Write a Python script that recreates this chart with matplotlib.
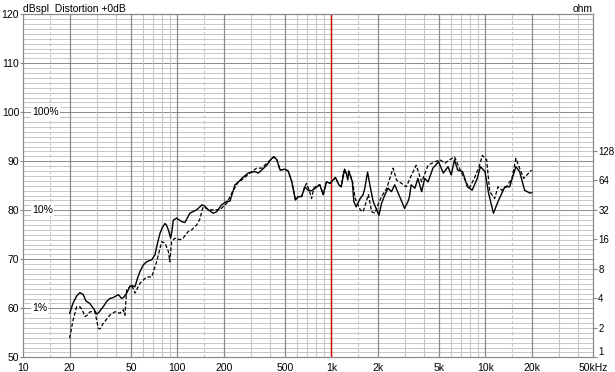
import numpy as np
import matplotlib
matplotlib.use("Agg")
import matplotlib.pyplot as plt

plt.rcParams['font.family'] = ['Liberation Sans', 'DejaVu Sans']

# measured response, solid trace
solid_f = [20, 21, 22.2, 23.3, 24.5, 25.5, 27, 28.5, 30, 31, 33, 35, 36.5, 38.4, 41.4, 43.5,
           45, 46.9, 49.3, 51, 53.1, 55, 57.2, 60, 63.2, 68.2, 71.6, 74, 77.2, 80, 83.2, 85,
           87.5, 90.6, 92.5, 94.2, 99, 106.6, 112, 120.6, 133.6, 144.6, 150, 158.9, 171, 180,
           193.8, 209, 220, 231, 237, 250, 262, 288, 318, 336, 353, 381, 411, 426, 443, 465,
           500, 525, 552, 565, 585, 611, 642, 673, 707, 745, 785, 842, 886, 930, 980, 1030,
           1063, 1120, 1160, 1220, 1250, 1280, 1300, 1370, 1400, 1450, 1540, 1610, 1650, 1720,
           1780, 1870, 1970, 2040, 2120, 2230, 2340, 2460, 2580, 2780, 2990, 3150, 3220, 3300,
           3490, 3650, 3860, 4040, 4250, 4570, 4970, 5340, 5730, 6010, 6310, 6620, 7120, 7650,
           8220, 8870, 9290, 9960, 10500, 11300, 12100, 13400, 14400, 15800, 16700, 18000,
           19500, 20000]
solid_db = [59.0, 61.0, 62.5, 63.2, 62.8, 61.5, 61.0, 60.0, 58.8, 59.2, 60.3, 61.5, 62.0, 62.2,
            62.8, 62.0, 62.3, 63.1, 64.5, 64.6, 64.4, 66.0, 67.5, 68.8, 69.5, 69.9, 70.9, 73.0,
            75.3, 76.5, 77.3, 77.0, 76.0, 74.3, 76.0, 78.0, 78.4, 77.7, 77.5, 79.4, 80.1, 81.1,
            80.9, 80.1, 79.4, 79.7, 81.1, 81.8, 81.9, 84.1, 85.2, 85.8, 86.5, 87.6, 87.9, 87.6,
            88.2, 89.2, 90.6, 90.9, 90.3, 88.2, 88.4, 88.0, 86.0, 84.5, 82.1, 82.8, 82.8, 84.8,
            84.1, 84.0, 84.5, 85.2, 83.2, 85.8, 85.5, 86.2, 86.7, 85.2, 84.8, 88.4, 87.6, 86.2,
            88.0, 85.8, 81.8, 80.7, 82.4, 83.2, 84.5, 87.8, 85.2, 81.8, 80.1, 79.0, 81.4, 83.2,
            84.5, 83.8, 85.2, 82.8, 80.4, 81.8, 82.8, 85.2, 84.5, 86.5, 83.8, 86.5, 85.8, 88.6,
            89.9, 87.6, 88.9, 87.2, 90.3, 88.2, 87.9, 84.8, 84.1, 86.5, 88.9, 87.9, 83.5, 79.4,
            81.8, 84.8, 84.8, 88.9, 87.9, 84.1, 83.5, 83.6]

# dashed trace
dash_f = [20, 21, 22.2, 23.3, 24, 25.2, 26, 27.1, 29.2, 30.7, 31.5, 33, 36.5, 39.4, 42.4, 44.6,
          45.7, 46.9, 50.5, 53.1, 57.2, 63.2, 68.2, 73.4, 79.2, 83.2, 87.5, 89.4, 91.8, 96.4,
          103.9, 109, 118, 124, 133.6, 140, 147, 163, 189, 209, 231, 249, 262, 296, 327, 353,
          390, 421, 443, 465, 500, 525, 552, 565, 585, 611, 642, 673, 690, 720, 745, 770, 800,
          842, 870, 886, 930, 980, 1030, 1063, 1120, 1160, 1200, 1250, 1300, 1370, 1430, 1540,
          1610, 1740, 1830, 1920, 2010, 2120, 2290, 2400, 2520, 2650, 2850, 3070, 3240, 3560,
          3860, 4250, 4700, 5090, 5470, 5860, 6310, 6790, 7310, 7870, 8480, 9120, 9570, 10200,
          10700, 11500, 12100, 12800, 13700, 14900, 15800, 16700, 17800, 19500, 20000]
dash_db = [53.9, 57.5, 60.3, 60.3, 59.8, 58.3, 58.6, 59.3, 59.3, 55.9, 55.8, 56.9, 58.6, 59.3,
           59.0, 59.7, 58.6, 63.7, 64.8, 63.1, 65.1, 66.4, 66.4, 69.5, 73.6, 73.3, 71.6, 69.5,
           73.6, 74.3, 74.0, 74.3, 75.7, 76.0, 77.0, 78.2, 80.7, 80.1, 80.1, 81.4, 84.1, 85.8,
           86.2, 87.6, 88.6, 88.6, 89.9, 90.9, 90.3, 88.2, 88.4, 88.0, 86.0, 84.5, 82.1, 82.8,
           82.8, 84.8, 85.5, 84.0, 82.4, 84.5, 85.0, 85.2, 84.0, 83.2, 85.8, 85.5, 86.2, 86.7,
           85.2, 84.8, 87.9, 87.6, 88.0, 86.0, 82.4, 80.1, 79.7, 83.2, 79.7, 79.4, 81.1, 82.8,
           84.5, 86.5, 88.6, 86.2, 85.5, 84.8, 86.5, 89.2, 85.8, 89.2, 89.9, 90.3, 89.6, 90.3,
           90.9, 88.6, 86.5, 84.5, 86.5, 88.9, 91.2, 90.3, 83.8, 82.4, 84.8, 84.1, 84.8, 86.5,
           90.6, 88.6, 86.5, 87.9, 88.2]

x_ticks = [10, 20, 50, 100, 200, 500, 1000, 2000, 5000, 10000, 20000, 50000]
x_labels = ['10', '20', '50', '100', '200', '500', '1k', '2k', '5k', '10k', '20k', '50kHz']
y_ticks = [50, 60, 70, 80, 90, 100, 110, 120]
ohm_ticks = [1, 2, 4, 8, 16, 32, 64, 128]
pct_levels = [100, 80, 60]
pct_labels = ['100%', '10%', '1%']

major_c = '#8a8a8a'
minor_c = '#c6c6c6'
fs = 7.5

fig = plt.figure(figsize=(6.15, 3.72), dpi=100)
ax = fig.add_axes([0.0379, 0.0395, 0.9262, 0.9221])
ax.set_xscale('log')
ax.set_xlim(10, 50000)
ax.set_ylim(50, 120)

# grid
for db in range(51, 120):
    ax.axhline(db, color=major_c if db % 10 == 0 else minor_c, lw=0.7, zorder=1)
for dec in [10, 100, 1000, 10000]:
    for m in range(1, 10):
        f = dec * m
        if f <= 10 or f >= 50000:
            continue
        if m in (1, 2, 5):
            ax.axvline(f, color=major_c, lw=0.9, zorder=1)
        else:
            ax.axvline(f, color=minor_c, lw=0.8, zorder=1)
    ax.axvline(dec * 1.5, color=minor_c, lw=0.8, ls=(0, (3, 2)), zorder=1)
ax.axvline(1000, color='#d40000', lw=1.0, zorder=2)

ax.plot(solid_f, solid_db, color='black', lw=1.0, zorder=4)
ax.plot(dash_f, dash_db, color='black', lw=0.9, ls=(0, (3, 1.6)), zorder=3)

for lev, lab in zip(pct_levels, pct_labels):
    ax.text(11.4, lev, lab, fontsize=fs, va='center', ha='left', zorder=5,
            bbox=dict(facecolor='white', edgecolor='none', pad=0.6))

ax.set_xticks(x_ticks)
ax.set_xticklabels(x_labels)
ax.xaxis.set_minor_locator(matplotlib.ticker.NullLocator())
ax.set_yticks(y_ticks)
ax.tick_params(axis='x', length=0, pad=4, labelsize=fs)
ax.tick_params(axis='y', length=2, pad=1, labelsize=fs, color=major_c)
for s in ax.spines.values():
    s.set_color(major_c)
    s.set_linewidth(0.9)

ax2 = ax.twinx()
ax2.set_yscale('log', base=2)
ax2.set_ylim(1, 10 ** 3.5)
ax2.set_yticks(ohm_ticks)
ax2.set_yticklabels([str(o) for o in ohm_ticks])
ax2.yaxis.set_minor_locator(matplotlib.ticker.NullLocator())
ax2.tick_params(axis='y', length=3, pad=0.8, labelsize=7, color=major_c)
for s in ax2.spines.values():
    s.set_visible(False)
# lift the bottom ohm label a little so it clears "50kHz"
ax2.get_yticklabels()[0].set_verticalalignment('bottom')

fig.text(0.0379, 0.99, 'dBspl  Distortion +0dB', fontsize=fs, va='top', ha='left')
fig.text(0.964, 0.99, 'ohm', fontsize=fs, va='top', ha='right')

fig.savefig('out.png', dpi=100, facecolor='white')
